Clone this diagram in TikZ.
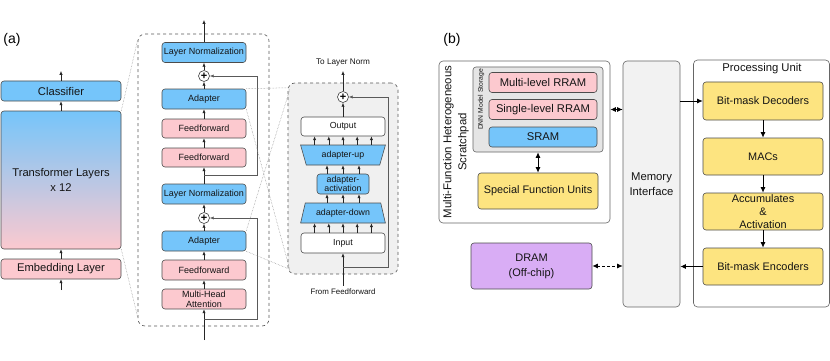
\documentclass[tikz,border=0pt]{standalone}
\usepackage{fontspec}
\setmainfont{Liberation Sans}
\usepackage{xcolor}
\usetikzlibrary{arrows.meta, positioning, shapes.geometric, calc}
\definecolor{layerblue}{RGB}{117,197,250}
\definecolor{layerpink}{RGB}{252,201,207}
\definecolor{unityellow}{RGB}{253,228,128}
\definecolor{drampurple}{RGB}{217,173,245}
\tikzset{
    layerbox/.style={
        rectangle,
        rounded corners=3pt,
        draw=black!70,
        line width=0.6pt,
        align=center,
        inner sep=0pt,
        text=black!92
    },
    bigbox/.style={
        layerbox,
        minimum width=120pt,
        minimum height=20pt,
        font=\fontsize{11.2}{15}\selectfont
    },
    midbox/.style={
        layerbox,
        minimum width=84pt,
        minimum height=20pt,
        font=\fontsize{9}{10.3}\selectfont
    },
    adbox/.style={
        layerbox,
        minimum width=84pt,
        minimum height=19pt,
        font=\fontsize{8.8}{9}\selectfont
    },
    adtrap/.style={
        trapezium,
        trapezium angle=68,
        trapezium stretches=true,
        draw=black!70,
        line width=0.6pt,
        fill=layerblue,
        inner sep=0pt,
        minimum width=85pt,
        minimum height=20pt,
        text=black!92,
        font=\fontsize{8.8}{9}\selectfont
    },
    hwbox/.style={
        layerbox,
        minimum width=120pt,
        minimum height=37pt,
        font=\fontsize{10.9}{13}\selectfont
    },
    memcell/.style={
        layerbox,
        minimum width=108pt,
        minimum height=20pt,
        font=\fontsize{11.2}{13}\selectfont
    },
    framebox/.style={
        rectangle,
        rounded corners=4pt,
        draw=black!60,
        line width=0.6pt,
        inner sep=0pt
    },
    sumnode/.style={
        circle,
        draw=black!75,
        line width=0.6pt,
        fill=white,
        inner sep=0pt,
        minimum size=11pt,
        font=\fontsize{11}{11}\selectfont\bfseries
    },
    flowline/.style={
        -{Latex[length=3.8pt, width=3.2pt]},
        draw=black!85,
        line width=0.6pt
    },
    resline/.style={
        flowline,
        draw=black!65
    },
    zoomline/.style={
        densely dotted,
        draw=black!45,
        line width=0.5pt
    },
    hwline/.style={
        -{Latex[length=5.5pt, width=5pt]},
        line width=0.9pt
    },
    hwbiline/.style={
        {Latex[length=5.5pt, width=5pt]}-{Latex[length=5.5pt, width=5pt]},
        line width=0.9pt
    }
}
\begin{document}
\begin{tikzpicture}[x=1pt, y=-1pt]
    \useasboundingbox (0,0) rectangle (830,361);

    \node[font=\fontsize{14}{14}\selectfont] (labela) at (12,40) {(a)};
    \node[bigbox, fill=layerblue] (cls) at (61,91) {Classifier};
    \node[bigbox, minimum height=138pt, top color=layerblue, bottom color=layerpink] (trf) at (61,180) {Transformer Layers\\x 12};
    \node[bigbox, fill=layerpink] (emb) at (61,269) {Embedding Layer};
    \coordinate (clsout) at (61,71);
    \coordinate (embin) at (61,290);

    \node[framebox, dashed, draw=black!65, rounded corners=7pt, minimum width=131pt, minimum height=292pt] (midframe) at (203.5,180) {};
    \node[midbox, fill=layerblue] (ln1) at (204,52.5) {Layer Normalization};
    \node[sumnode] (add1) at (204,76) {+};
    \node[midbox, fill=layerblue] (ad1) at (204,99) {Adapter};
    \node[midbox, fill=layerpink, minimum height=19pt] (ff1) at (204,128.5) {Feedforward};
    \node[midbox, fill=layerpink, minimum height=19pt] (ff2) at (204,157.5) {Feedforward};
    \node[midbox, fill=layerblue] (ln2) at (204,194) {Layer Normalization};
    \node[sumnode] (add2) at (204,218) {+};
    \node[midbox, fill=layerblue] (ad2) at (204,241) {Adapter};
    \node[midbox, fill=layerpink] (ff3) at (204,270) {Feedforward};
    \node[midbox, fill=layerpink] (mha) at (204,299) {Multi-Head\\Attention};
    \coordinate (midout) at (204,20);
    \coordinate (midin) at (204,340);
    \coordinate (br1) at (204,175);
    \coordinate (rail1) at (257,175);
    \coordinate (br2) at (204,319);
    \coordinate (rail2) at (257,319);

    \node[framebox, dashed, draw=black!65, fill=black!6, rounded corners=7pt, minimum width=110pt, minimum height=191pt] (detframe) at (343,178.5) {};
    \node[font=\fontsize{8.2}{9}\selectfont, text=black!92] (toln) at (343,63) {To Layer Norm};
    \node[sumnode] (add3) at (343,97) {+};
    \node[adbox, fill=white] (out) at (343,126.5) {Output};
    \node[adtrap, shape border rotate=180] (up) at (343,155) {adapter-up};
    \node[adbox, fill=layerblue, minimum width=52pt, minimum height=20pt] (act) at (343,184) {adapter-\\activation};
    \node[adtrap] (down) at (343,213) {adapter-down};
    \node[adbox, fill=white, minimum height=20pt] (inp) at (343,243) {Input};
    \node[font=\fontsize{7.9}{9}\selectfont, text=black!92] (fromff) at (343,292) {From Feedforward};
    \coordinate (dtop) at (343,71);
    \coordinate (br3) at (343,267);
    \coordinate (rail3) at (388,267);

    \draw[flowline] (emb) -- (trf);
    \draw[flowline] (trf) -- (cls);
    \draw[flowline] (embin) -- (emb);
    \draw[flowline] (cls) -- (clsout);

    \draw[zoomline] (trf.north east) -- ($(midframe.north west)+(0,6)$);
    \draw[zoomline] (trf.south east) -- ($(midframe.south west)+(0,-9)$);

    \draw[flowline] (midin) -- (mha);
    \draw[flowline] (mha) -- (ff3);
    \draw[flowline] (ff3) -- (ad2);
    \draw[flowline] (ad2) -- (add2);
    \draw[flowline] (add2) -- (ln2);
    \draw[flowline] (ln2) -- (ff2);
    \draw[flowline] (ff2) -- (ff1);
    \draw[flowline] (ff1) -- (ad1);
    \draw[flowline] (ad1) -- (add1);
    \draw[flowline] (add1) -- (ln1);
    \draw[flowline] (ln1) -- (midout);
    \draw[resline] (br1) -- (rail1) |- (add1);
    \draw[resline] (br2) -- (rail2) |- (add2);

    \draw[zoomline] (ad1.north east) -- ($(detframe.north west)+(2,5)$);
    \draw[zoomline] (ad1.south east) -- ($(detframe.south west)+(2,-5)$);
    \draw[zoomline] (ad2.north east) -- ($(detframe.north west)+(2,7)$);
    \draw[zoomline] (ad2.south east) -- ($(detframe.south west)+(2,-5)$);

    \draw[flowline] (fromff) -- (inp);
    \foreach \dx in {-28.4,-14.2,0,14.2,28.4} {
        \draw[flowline] ([xshift=\dx pt]inp.north) -- ([xshift=\dx pt]inp.north |- down.south);
        \draw[flowline] ([xshift=\dx pt]up.north) -- ([xshift=\dx pt]up.north |- out.south);
    }
    \foreach \dx in {-16,0,16} {
        \draw[flowline] ([xshift=\dx pt]down.north) -- ([xshift=\dx pt]down.north |- act.south);
        \draw[flowline] ([xshift=\dx pt]act.north) -- ([xshift=\dx pt]act.north |- up.south);
    }
    \draw[flowline] (out) -- (add3);
    \draw[flowline] (add3) -- (dtop);
    \draw[resline] (br3) -- (rail3) |- (add3);

    \node[font=\fontsize{14}{14}\selectfont] (labelb) at (452,40) {(b)};
    \node[framebox, fill=white, minimum width=171pt, minimum height=162pt] (scratch) at (524.5,142) {};
    \node[rotate=90, align=center, text=black!92, font=\fontsize{11.4}{15}\selectfont] (scratchlbl) at (456,142) {Multi-Function Heterogeneous\\Scratchpad};
    \node[framebox, fill=black!10, rounded corners=3pt, minimum width=130pt, minimum height=85pt] (storage) at (538,109.5) {};
    \node[rotate=90, text=black!92, font=\fontsize{6.8}{8}\selectfont] (storagelbl) at (481,99.5) {DNN Model Storage};
    \node[memcell, fill=layerpink] (mlr) at (543,82.5) {Multi-level RRAM};
    \node[memcell, fill=layerpink] (slr) at (543,109.5) {Single-level RRAM};
    \node[memcell, fill=layerblue] (sram) at (543,137) {SRAM};
    \node[hwbox, fill=unityellow, minimum height=36pt] (sfu) at (538,191) {Special Function Units};

    \node[framebox, fill=black!5, minimum width=57pt, minimum height=246pt] (memif) at (651.5,184) {};
    \node[align=center, text=black!92, font=\fontsize{11.3}{15}\selectfont] (memiflbl) at (651.5,184) {Memory\\Interface};

    \node[framebox, fill=white, minimum width=136pt, minimum height=247pt] (pu) at (761.5,183.5) {};
    \node[text=black!92, font=\fontsize{11.3}{13}\selectfont] (pulbl) at (762,69) {Processing Unit};
    \node[hwbox, fill=unityellow, minimum height=38pt] (dec) at (763,101) {Bit-mask Decoders};
    \node[hwbox, fill=unityellow] (macs) at (763,156.5) {MACs};
    \node[hwbox, fill=unityellow] (acc) at (763,211.5) {Accumulates\\\&\\Activation};
    \node[hwbox, fill=unityellow] (enc) at (763,266.5) {Bit-mask Encoders};

    \node[hwbox, fill=drampurple, minimum width=121pt, minimum height=46pt, font=\fontsize{11}{15}\selectfont] (dram) at (531.5,266) {DRAM\\(Off-chip)};

    \draw[hwbiline] (storage) -- (sfu);
    \draw[hwbiline] (scratch.east |- slr) -- (memif.west |- slr);
    \draw[hwline] (memif.east |- dec) -- (dec);
    \draw[hwline] (dec) -- (macs);
    \draw[hwline] (macs) -- (acc);
    \draw[hwline] (acc) -- (enc);
    \draw[hwline] (enc) -- (memif.east |- enc);
    \draw[hwbiline, densely dashed] (dram) -- (memif.west |- dram);
\end{tikzpicture}
\end{document}
